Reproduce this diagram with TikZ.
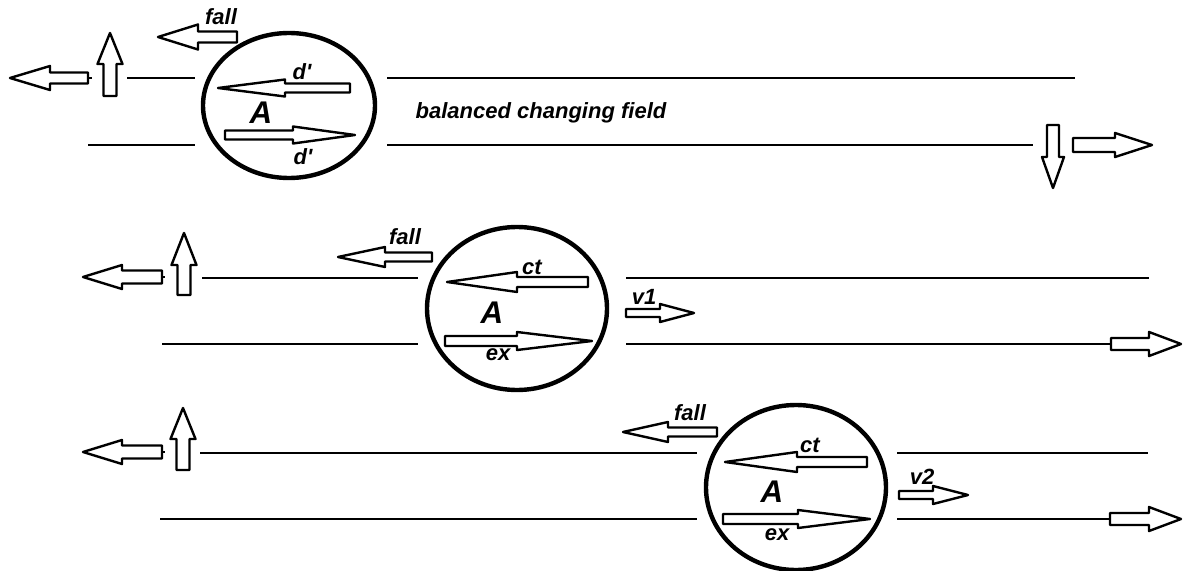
\documentclass[tikz,border=0pt]{standalone}
\usepackage{fontspec}
\setmainfont{Liberation Sans}
\usetikzlibrary{shapes.geometric}

% outline arrow along y: y, tail x, head base x, tip x, shaft half, head half
\newcommand{\blkh}[6]{%
  \draw[blk] (#2,#1-#5) -- (#3,#1-#5) -- (#3,#1-#6) -- (#4,#1)
    -- (#3,#1+#6) -- (#3,#1+#5) -- (#2,#1+#5) -- cycle;}
% outline arrow along x: x, tail y, head base y, tip y, shaft half, head half
\newcommand{\blkv}[6]{%
  \draw[blk] (#1-#5,#2) -- (#1-#5,#3) -- (#1-#6,#3) -- (#1,#4)
    -- (#1+#6,#3) -- (#1+#5,#3) -- (#1+#5,#2) -- cycle;}

\begin{document}
\begin{tikzpicture}[
  x=0.75pt, y=-0.75pt,
  field/.style={line width=1.9pt},
  body/.style={draw, ellipse, line width=3.3pt, inner sep=0pt},
  blk/.style={draw, fill=white, line width=1.8pt, line join=round},
  lbl/.style={font=\fontsize{16.5}{18}\selectfont\bfseries\itshape, inner sep=0pt},
  big/.style={font=\fontsize{23.5}{26}\selectfont\bfseries\itshape, inner sep=0pt},
]
  \useasboundingbox (0,0) rectangle (1183,571);

  % first row
  \draw[field, line width=2.2pt] (127,78) -- (195,78) (387,78) -- (1075,78);
  \draw[field, line width=2.2pt] (88,145) -- (195,145) (387,145) -- (1033,145);
  \node[body, minimum width=129pt, minimum height=108.75pt] (atom1) at (289,105.5) {};
  \draw[blk] (88,78) -- (92,78);
  \blkh{78}{88}{50}{10}{5.5}{12}
  \blkv{110}{96}{64}{33}{6.5}{12.5}
  \blkh{37}{237}{198}{158}{5.5}{12.5}
  \node[lbl] (fall1) at (221,17) {fall};
  \blkh{88}{350}{285}{218}{4.5}{8.5}
  \node[lbl] (dtop) at (302,72) {d\textquotesingle};
  \node[big] (a1) at (261,113) {A};
  \blkh{135}{225}{293}{355}{4.5}{8.5}
  \node[lbl] (dbot) at (303,157) {d\textquotesingle};
  \node[lbl] (title) at (541,113) {balanced changing field};
  \blkv{1053}{125}{157}{188}{6}{11}
  \blkh{145}{1073}{1115}{1152}{7}{12}

  % second row
  \draw[field] (202,278) -- (418,278) (626,278) -- (1149,278);
  \draw[field] (162,344) -- (418,344) (626,344) -- (1111,344);
  \node[body, minimum width=135pt, minimum height=122.25pt] (atom2) at (517,308.5) {};
  \draw[blk] (162,277) -- (165,277);
  \blkh{277}{162}{122}{83}{6.5}{12}
  \blkv{184}{295}{265}{233}{6.5}{12.5}
  \blkh{257}{432}{385}{338}{4.5}{10}
  \node[lbl] (fall2) at (405,237) {fall};
  \blkh{282}{588}{517}{447}{5}{10}
  \node[lbl] (ct2) at (532,267) {ct};
  \node[big] (a2) at (492,313) {A};
  \blkh{341}{445}{517}{592}{5}{9}
  \node[lbl] (ex2) at (498,355) {ex};
  \blkh{313}{626}{660}{694}{4}{9}
  \node[lbl] (v1) at (644,297) {v1};
  \blkh{344}{1111}{1149}{1181}{6}{12}

  % third row
  \draw[field] (200,453) -- (697,453) (897,453) -- (1148,453);
  \draw[field] (160,519) -- (697,519) (897,519) -- (1110,519);
  \node[body, minimum width=135pt, minimum height=123.75pt] (atom3) at (796,487.5) {};
  \draw[blk] (162,452) -- (165,452);
  \blkh{452}{162}{122}{83}{6.5}{12}
  \blkv{183}{470}{439}{408}{6.5}{12.5}
  \blkh{432}{717}{668}{623}{4.5}{10}
  \node[lbl] (fall3) at (690,413) {fall};
  \blkh{462}{867}{797}{725}{5}{10}
  \node[lbl] (ct3) at (810,445) {ct};
  \node[big] (a3) at (772,492) {A};
  \blkh{519}{723}{798}{870}{5}{9}
  \node[lbl] (ex3) at (777,535) {ex};
  \blkh{495}{899}{933}{968}{4}{9}
  \node[lbl] (v2) at (922,477) {v2};
  \blkh{519}{1110}{1149}{1181}{6}{12}
\end{tikzpicture}
\end{document}
